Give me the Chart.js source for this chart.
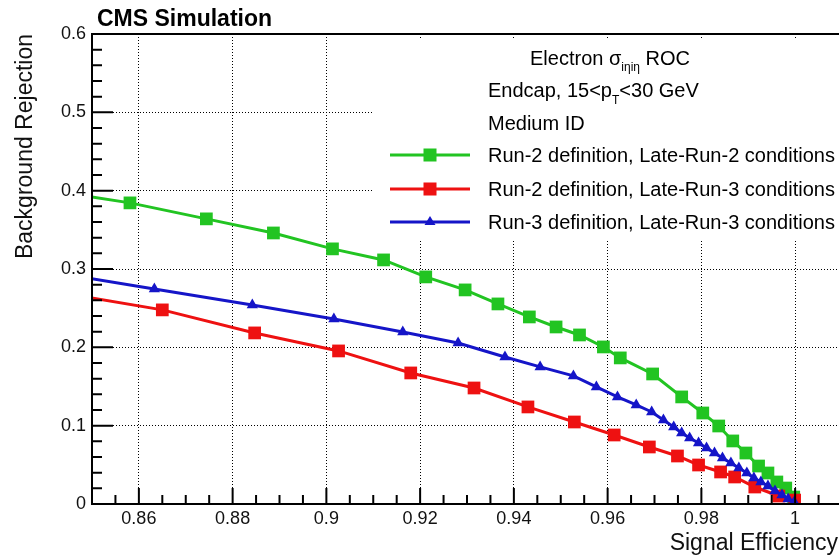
<!DOCTYPE html>
<html>
<head>
<meta charset="utf-8">
<script src="https://cdn.jsdelivr.net/npm/chart.js@4.4.0/dist/chart.umd.min.js"></script>
<style>
  html, body { margin: 0; padding: 0; background: #fff; overflow: hidden; }
  #wrap { position: relative; width: 851px; height: 555px; }
</style>
</head>
<body>
<div id="wrap"><canvas id="rocChart"></canvas></div>
<script>
// tick labels
const xTicks = [0.86, 0.88, 0.9, 0.92, 0.94, 0.96, 0.98, 1.0];
const yTicks = [0, 0.1, 0.2, 0.3, 0.4, 0.5, 0.6];

// Run-2 definition, Late-Run-2 conditions (first point sits just left of the frame)
const greenEff = [0.845, 0.8581, 0.8744, 0.8887, 0.9013, 0.9122, 0.9212, 0.9296, 0.9366, 0.9433, 0.949, 0.954,
  0.9591, 0.9627, 0.9696, 0.9758, 0.9803, 0.9837, 0.9867, 0.9895, 0.9922, 0.9942, 0.9961, 0.998, 0.9997];
const greenRej = [0.3967, 0.3844, 0.364, 0.346, 0.3257, 0.3116, 0.2899, 0.2733, 0.2554, 0.2388, 0.226, 0.2158,
  0.2005, 0.1865, 0.166, 0.1367, 0.1162, 0.0996, 0.0805, 0.0651, 0.0485, 0.0396, 0.0281, 0.0204, 0.0089];

// Run-2 definition, Late-Run-3 conditions
const redEff = [0.845, 0.865, 0.8847, 0.9026, 0.918, 0.9315, 0.943, 0.9529, 0.9614, 0.9689, 0.9749, 0.9794,
  0.9841, 0.9871, 0.9914, 0.9965, 0.9999];
const redRej = [0.268, 0.2478, 0.2184, 0.1954, 0.1673, 0.1481, 0.1239, 0.1047, 0.0881, 0.0728, 0.0613, 0.0498,
  0.0409, 0.0345, 0.0217, 0.0102, 0.005];

// Run-3 definition, Late-Run-3 conditions
const blueEff = [0.845, 0.8633, 0.8842, 0.9016, 0.9163, 0.9281, 0.9381, 0.9456, 0.9527, 0.9576, 0.9621, 0.9661,
  0.9694, 0.9719, 0.9741, 0.9758, 0.9775, 0.9794, 0.9811, 0.9828, 0.9845, 0.9863, 0.988, 0.9897, 0.9912,
  0.9927, 0.9942, 0.9957, 0.9972, 0.9985, 0.9998];
const blueRej = [0.2925, 0.2746, 0.2541, 0.2363, 0.2197, 0.2056, 0.1877, 0.175, 0.1635, 0.1494, 0.1367, 0.1264,
  0.1175, 0.1073, 0.0983, 0.0907, 0.0843, 0.0779, 0.0715, 0.0651, 0.0587, 0.0524, 0.046, 0.0396, 0.0332,
  0.0281, 0.023, 0.0166, 0.0115, 0.0064, 0.0026];

const GREEN = "#22c422";
const RED = "#ee1111";
const BLUE = "#1515c8";
const FONT = "'Liberation Sans', Arial, Helvetica, sans-serif";

function pairs(xs, ys) {
  return xs.map((x, i) => ({ x: x, y: ys[i] }));
}

function fmt(v) {
  return String(Number(v.toFixed(2)));
}

// ROOT-like frame, ticks, legend and labels
const rootStyle = {
  id: "rootStyle",
  beforeDatasetsDraw(chart) {
    const ctx = chart.ctx;
    // legend box hides the grid behind it
    ctx.save();
    ctx.fillStyle = "#fff";
    ctx.fillRect(372, 39, 480, 200);
    ctx.restore();
  },
  afterDraw(chart) {
    const ctx = chart.ctx;
    const a = chart.chartArea;
    const xs = chart.scales.x;
    const ys = chart.scales.y;

    ctx.save();
    ctx.strokeStyle = "#000";
    ctx.lineWidth = 2;

    // frame
    ctx.beginPath();
    ctx.moveTo(a.left, a.bottom);
    ctx.lineTo(a.left, a.top);
    ctx.lineTo(a.right + 2, a.top);
    ctx.moveTo(a.left - 1, a.bottom);
    ctx.lineTo(a.right + 2, a.bottom);
    ctx.stroke();

    // x ticks, minor every 0.005
    ctx.beginPath();
    for (let k = 0; k <= 32; k++) {
      const px = xs.getPixelForValue(0.85 + k * 0.005);
      const len = (k - 2) % 4 === 0 ? 16 : 9;
      ctx.moveTo(px, a.bottom);
      ctx.lineTo(px, a.bottom - len);
    }
    // y ticks, minor every 0.02
    for (let k = 0; k <= 30; k++) {
      const py = ys.getPixelForValue(k * 0.02);
      const len = k % 5 === 0 ? 21 : 10;
      ctx.moveTo(a.left, py);
      ctx.lineTo(a.left + len, py);
    }
    ctx.stroke();

    // CMS label
    ctx.fillStyle = "#000";
    ctx.textBaseline = "alphabetic";
    ctx.textAlign = "left";
    ctx.font = "bold 23px " + FONT;
    ctx.fillText("CMS Simulation", 97, 26);

    // x axis title, right aligned like ROOT
    ctx.fillStyle = "#111";
    ctx.font = "23px " + FONT;
    ctx.textAlign = "right";
    ctx.fillText("Signal Efficiency", 838, 550);
    ctx.textAlign = "left";
    ctx.fillStyle = "#000";

    // legend header lines
    const main = "20px " + FONT;
    const sub = "12px " + FONT;
    ctx.font = main;
    const w1 = ctx.measureText("Electron \u03c3").width;
    const w3 = ctx.measureText(" ROC").width;
    ctx.font = sub;
    const w2 = ctx.measureText("i\u03b7i\u03b7").width;
    let x0 = 610 - (w1 + w2 + w3) / 2;
    ctx.font = main;
    ctx.fillText("Electron \u03c3", x0, 65);
    ctx.font = sub;
    ctx.fillText("i\u03b7i\u03b7", x0 + w1, 71);
    ctx.font = main;
    ctx.fillText(" ROC", x0 + w1 + w2, 65);

    const tx = 488;
    const p1 = "Endcap, 15<p";
    ctx.fillText(p1, tx, 97);
    const wp = ctx.measureText(p1).width;
    ctx.font = sub;
    ctx.fillText("T", tx + wp, 104);
    const wt = ctx.measureText("T").width;
    ctx.font = main;
    ctx.fillText("<30 GeV", tx + wp + wt, 97);
    ctx.fillText("Medium ID", tx, 130);

    // legend entries
    const entries = chart.data.datasets;
    const rows = [162, 196, 229];
    entries.forEach((ds, i) => {
      const ly = rows[i] - 7;
      ctx.strokeStyle = ds.borderColor;
      ctx.lineWidth = 3;
      ctx.beginPath();
      ctx.moveTo(390, ly);
      ctx.lineTo(470, ly);
      ctx.stroke();
      ctx.fillStyle = ds.borderColor;
      if (ds.pointStyle === "triangle") {
        ctx.beginPath();
        ctx.moveTo(430, ly - 6);
        ctx.lineTo(435.5, ly + 3);
        ctx.lineTo(424.5, ly + 3);
        ctx.closePath();
        ctx.fill();
      } else {
        ctx.fillRect(423.5, ly - 6.5, 13, 13);
      }
      ctx.fillStyle = "#000";
      ctx.font = main;
      ctx.fillText(ds.label, tx, rows[i]);
    });
    ctx.restore();
  }
};

const ctx = document.getElementById("rocChart").getContext("2d");

new Chart(ctx, {
  type: "line",
  data: {
    datasets: [
      {
        label: "Run-2 definition, Late-Run-2 conditions",
        data: pairs(greenEff, greenRej),
        borderColor: GREEN,
        backgroundColor: GREEN,
        pointStyle: "rect",
        pointRadius: 9,
        pointBorderWidth: 0,
        order: 3
      },
      {
        label: "Run-2 definition, Late-Run-3 conditions",
        data: pairs(redEff, redRej),
        borderColor: RED,
        backgroundColor: RED,
        pointStyle: "rect",
        pointRadius: 9,
        pointBorderWidth: 0,
        order: 2
      },
      {
        label: "Run-3 definition, Late-Run-3 conditions",
        data: pairs(blueEff, blueRej),
        borderColor: BLUE,
        backgroundColor: BLUE,
        pointStyle: "triangle",
        pointRadius: 6.5,
        pointBorderWidth: 0,
        order: 1
      }
    ]
  },
  options: {
    responsive: true,
    maintainAspectRatio: false,
    animation: false,
    events: [],
    layout: { padding: { top: 34, left: 0, right: 1, bottom: 0 } },
    elements: { line: { borderWidth: 3, tension: 0 } },
    plugins: {
      legend: { display: false },
      tooltip: { enabled: false }
    },
    scales: {
      x: {
        type: "linear",
        min: 0.85,
        max: 1.01,
        afterBuildTicks(scale) {
          scale.ticks = xTicks.map(v => ({ value: v }));
        },
        afterFit(scale) {
          scale.height = 51;
        },
        ticks: {
          callback: v => fmt(v),
          color: "#111",
          font: { family: FONT, size: 18 },
          padding: 4,
          maxRotation: 0
        },
        grid: { color: "#000", lineWidth: 1, drawTicks: false },
        border: { display: false, dash: [1, 2] },
        title: { display: false }
      },
      y: {
        type: "linear",
        min: 0,
        max: 0.6,
        afterBuildTicks(scale) {
          scale.ticks = yTicks.map(v => ({ value: v }));
        },
        afterFit(scale) {
          scale.width = 92;
        },
        ticks: {
          callback: v => fmt(v),
          color: "#111",
          font: { family: FONT, size: 18 },
          padding: 6
        },
        grid: { color: "#000", lineWidth: 1, drawTicks: false },
        border: { display: false, dash: [1, 2] },
        title: {
          display: true,
          text: "Background Rejection",
          align: "end",
          color: "#111",
          font: { family: FONT, size: 23 },
          padding: { top: 12, bottom: 0 }
        }
      }
    }
  },
  plugins: [rootStyle]
});
</script>
</body>
</html>
